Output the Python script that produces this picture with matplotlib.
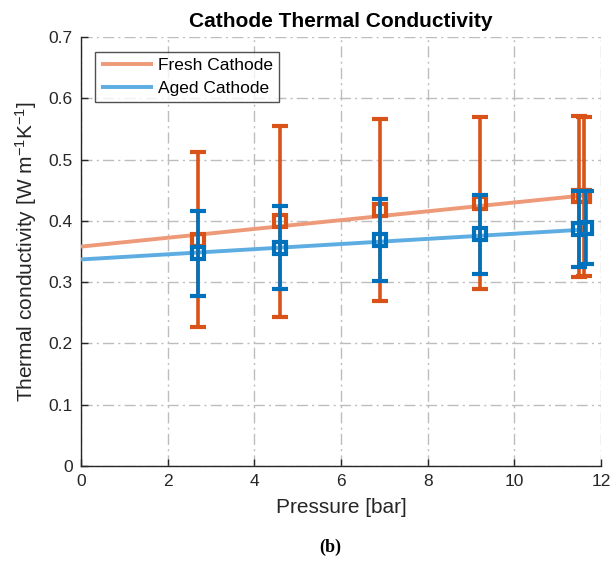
import matplotlib
matplotlib.use("Agg")
import matplotlib.pyplot as plt
import numpy as np

plt.rcParams['font.family'] = ['Liberation Sans', 'DejaVu Sans']
plt.rcParams['mathtext.default'] = 'regular'

# Measured thermal conductivity vs. compaction pressure
pressure_fresh = [2.7, 4.6, 6.9, 9.2, 11.5, 11.6]
k_fresh = [0.369, 0.399, 0.418, 0.429, 0.440, 0.440]
err_fresh = [0.143, 0.156, 0.148, 0.140, 0.131, 0.130]

pressure_aged = [2.7, 4.6, 6.9, 9.2, 11.5, 11.65]
k_aged = [0.347, 0.356, 0.369, 0.378, 0.386, 0.389]
err_aged = [0.069, 0.068, 0.067, 0.064, 0.062, 0.060]

# Linear fits (slope, intercept) and fitted range
fit_fresh = (0.0072, 0.358)
fit_aged = (0.0042, 0.337)
fit_range = [0.0, 11.6]

c_fresh_bar = '#D95319'
c_aged_bar = '#0072BD'
c_fresh_fit = '#EE9A78'
c_aged_fit = '#5DADE2'

fig = plt.figure(figsize=(6.11, 5.67), dpi=100)
ax = fig.add_axes([81/611, 1 - 466/567, 520/611, 429/567])

xf = np.array(fit_range)
ax.plot(xf, fit_fresh[0]*xf + fit_fresh[1], color=c_fresh_fit, lw=2.8,
        label='Fresh Cathode', zorder=3, solid_capstyle='butt')
ax.plot(xf, fit_aged[0]*xf + fit_aged[1], color=c_aged_fit, lw=2.8,
        label='Aged Cathode', zorder=3, solid_capstyle='butt')

ax.errorbar(pressure_fresh, k_fresh, yerr=err_fresh, fmt='s', color=c_fresh_bar,
            mfc='none', mec=c_fresh_bar, mew=3, ms=8, elinewidth=2.6,
            capsize=6, capthick=2.6, zorder=4)
ax.errorbar(pressure_aged, k_aged, yerr=err_aged, fmt='s', color=c_aged_bar,
            mfc='none', mec=c_aged_bar, mew=3, ms=8, elinewidth=2.6,
            capsize=6, capthick=2.6, zorder=5)

ax.set_xlim(0, 12)
ax.set_ylim(0, 0.7)
ax.set_xticks(np.arange(0, 13, 2))
ax.set_yticks(np.arange(0, 0.71, 0.1))
ax.set_yticklabels(['0', '0.1', '0.2', '0.3', '0.4', '0.5', '0.6', '0.7'])

ax.grid(True, color='#bdbdbd', linestyle=(0, (8, 3, 1.5, 3)), linewidth=1.0)
ax.set_axisbelow(True)
for s in ['top', 'right']:
    ax.spines[s].set_visible(False)
for s in ['left', 'bottom']:
    ax.spines[s].set_color('#262626')
    ax.spines[s].set_linewidth(1.0)
ax.tick_params(direction='in', length=5, width=1, labelsize=12.5,
               colors='#262626', pad=6)

ax.set_xlabel('Pressure [bar]', fontsize=15, color='#262626', labelpad=6)
ax.set_ylabel('Thermal conductivity [W m$^{-1}$K$^{-1}$]', fontsize=15,
              color='#262626', labelpad=7)
ax.set_title('Cathode Thermal Conductivity', fontsize=15, fontweight='bold',
             pad=7)

leg = ax.legend(loc='upper left', bbox_to_anchor=(0.027, 0.965), fontsize=12.5,
                frameon=True, fancybox=False, edgecolor='#262626',
                handlelength=3.0, borderpad=0.35, labelspacing=0.45,
                handletextpad=0.3, borderaxespad=0)
leg.get_frame().set_linewidth(1.0)

fig.text(330/611, 1 - 547/567, '(b)', ha='center', va='center', fontsize=13,
         fontweight='bold', family=['Liberation Serif', 'DejaVu Serif'])

fig.savefig('out.png', dpi=100)
